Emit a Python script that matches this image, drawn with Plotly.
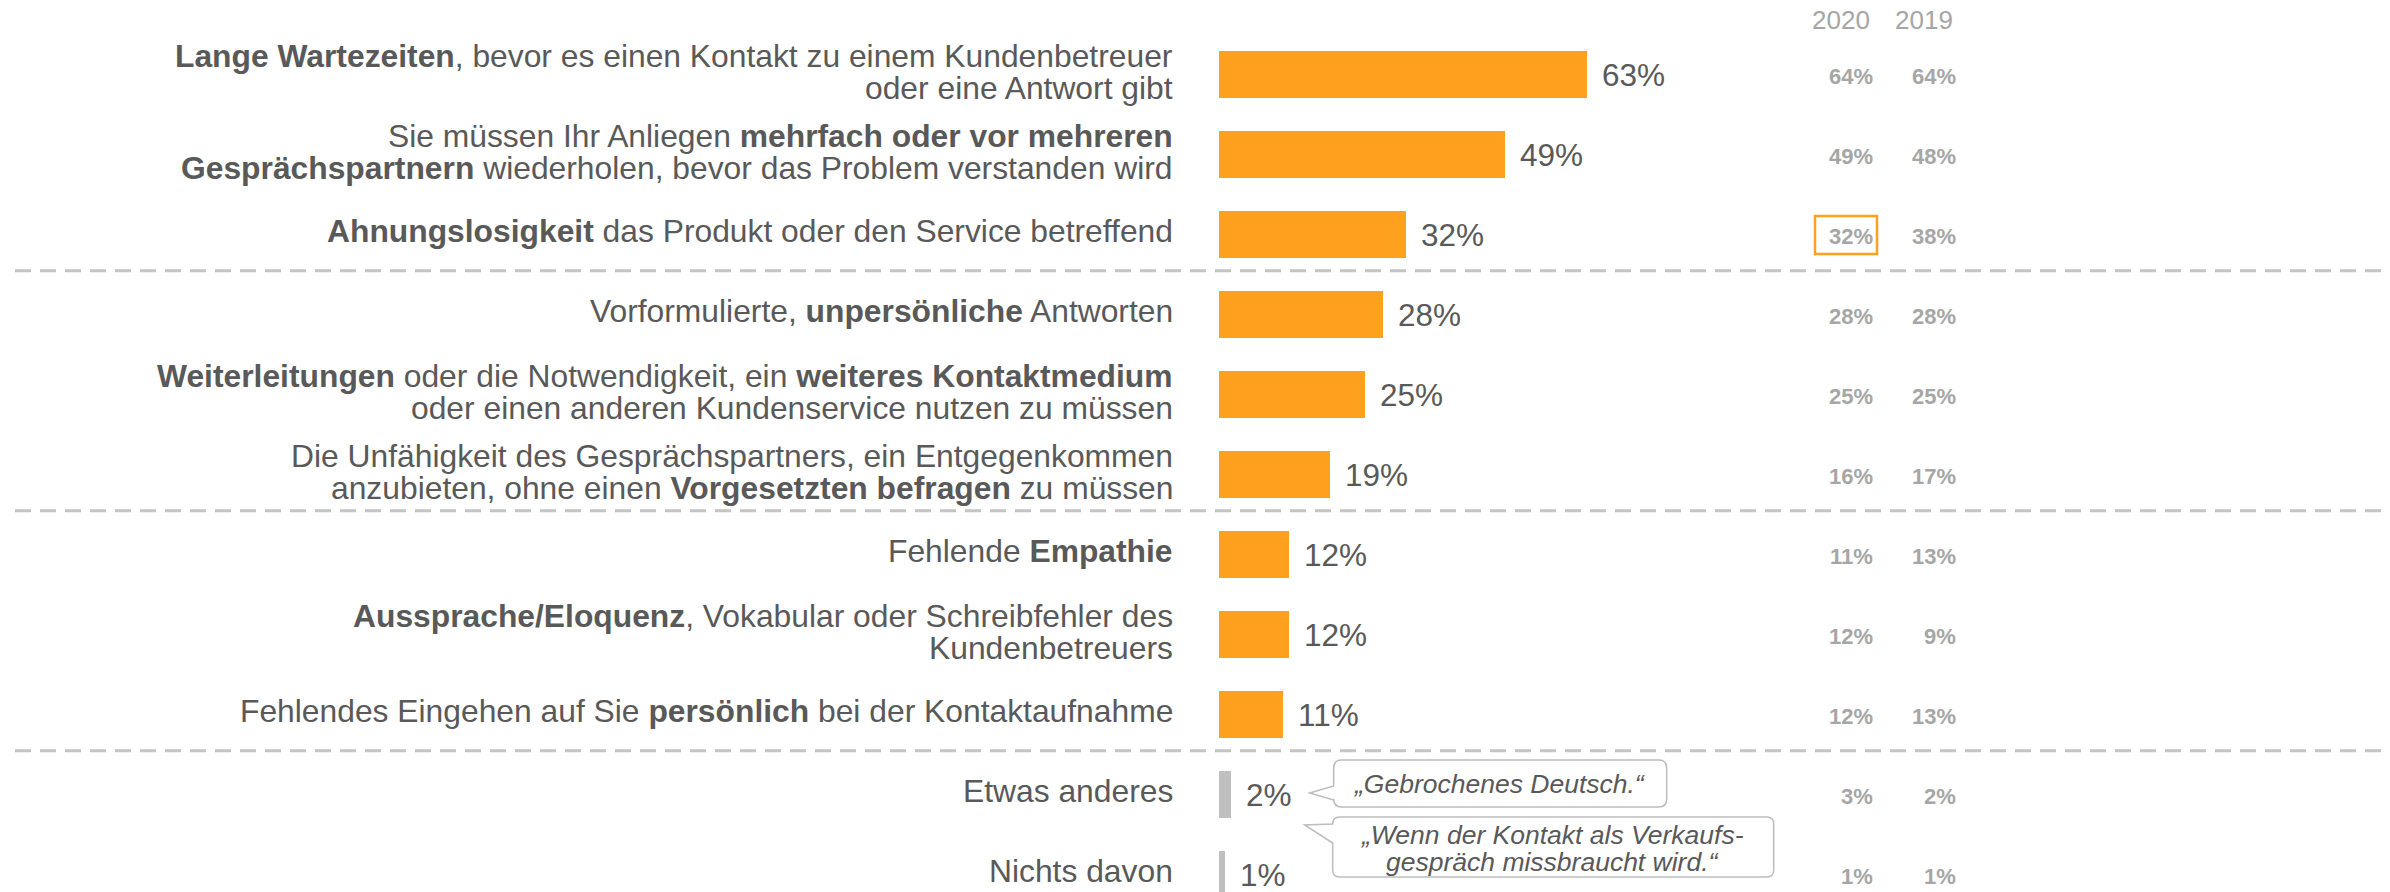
import plotly.graph_objects as go

# ---------------- data ----------------
categories = [
    "<b>Lange Wartezeiten</b>, bevor es einen Kontakt zu einem Kundenbetreuer<br>oder eine Antwort gibt",
    "Sie müssen Ihr Anliegen <b>mehrfach oder vor mehreren</b><br><b>Gesprächspartnern</b> wiederholen, bevor das Problem verstanden wird",
    "<b>Ahnungslosigkeit</b> das Produkt oder den Service betreffend",
    "Vorformulierte, <b>unpersönliche</b> Antworten",
    "<b>Weiterleitungen</b> oder die Notwendigkeit, ein <b>weiteres Kontaktmedium</b><br>oder einen anderen Kundenservice nutzen zu müssen",
    "Die Unfähigkeit des Gesprächspartners, ein Entgegenkommen<br>anzubieten, ohne einen <b>Vorgesetzten befragen</b> zu müssen",
    "Fehlende <b>Empathie</b>",
    "<b>Aussprache/Eloquenz</b>, Vokabular oder Schreibfehler des<br>Kundenbetreuers",
    "Fehlendes Eingehen auf Sie <b>persönlich</b> bei der Kontaktaufnahme",
    "Etwas anderes",
    "Nichts davon",
]
values_current = [63, 49, 32, 28, 25, 19, 12, 12, 11, 2, 1]
values_2020 = [64, 49, 32, 28, 25, 16, 11, 12, 12, 3, 1]
values_2019 = [64, 48, 38, 28, 25, 17, 13, 9, 13, 2, 1]
year_labels = ["2020", "2019"]
group_breaks = [3, 6, 9]          # separator drawn before these rows
grey_rows = [9, 10]               # "other" answers in grey
highlight_row = 2                 # 2020 value framed in orange
quote_row = 9
quotes = ["„Gebrochenes Deutsch.“",
          "„Wenn der Kontakt als Verkaufs-<br>gespräch missbraucht wird.“"]

# ---------------- style ----------------
W, H = 2390, 892
FONT = "Liberation Sans, Arial, sans-serif"
ORANGE = "#ffa01f"
GREY_BAR = "#bfbfbf"
TXT = "#595959"
LIGHT = "#a6a6a6"
DASH = "#c4c4c4"

PX_PER_PCT = 5.84
ZERO_PX = 1219
ROW0_PX = 74
ROW_PX = 80
COL_RIGHT_PX = [1875, 1958]

n = len(categories)
pos = list(range(n))
bar_colors = [GREY_BAR if i in grey_rows else ORANGE for i in pos]

fig = go.Figure()
fig.add_trace(go.Bar(
    x=values_current, y=pos, orientation="h", width=0.5875,
    marker=dict(color=bar_colors, line=dict(width=0)),
    hoverinfo="skip", showlegend=False,
))

annotations = []
# category labels (each line placed separately for tight line spacing)
for i, cat in enumerate(categories):
    lines = cat.split("<br>")
    if len(lines) == 1:
        shifts = [3]
    else:
        shifts = [18.5, -13.5]
    for ln, ys in zip(lines, shifts):
        annotations.append(dict(
            x=0, y=i, xref="x", yref="y", text=ln, showarrow=False,
            xanchor="right", yanchor="middle", xshift=-44, yshift=ys,
            font=dict(family=FONT, size=31.8, color=TXT),
        ))
# value labels
for i, v in enumerate(values_current):
    annotations.append(dict(
        x=v, y=i, xref="x", yref="y", text=f"{v}%", showarrow=False,
        xanchor="left", yanchor="middle", xshift=13, yshift=-1,
        font=dict(family=FONT, size=31.5, color=TXT),
    ))
# previous years
for col, vals in enumerate([values_2020, values_2019]):
    xp = COL_RIGHT_PX[col] / W
    annotations.append(dict(
        x=xp, y=1 - 20 / H, xref="paper", yref="paper", text=year_labels[col],
        showarrow=False, xanchor="right", yanchor="middle", xshift=-3,
        font=dict(family=FONT, size=26, color=LIGHT),
    ))
    for i, v in enumerate(vals):
        annotations.append(dict(
            x=xp, y=i, xref="paper", yref="y", text=f"<b>{v}%</b>",
            showarrow=False, xanchor="right", yanchor="middle", yshift=-2,
            font=dict(family=FONT, size=22, color=LIGHT),
        ))

shapes = []
# dashed separators
for b in group_breaks:
    yv = b - 0.5 - 0.04
    shapes.append(dict(
        type="line", xref="paper", yref="y", x0=15 / W, x1=1, y0=yv, y1=yv,
        line=dict(color=DASH, width=3, dash="16px,9px"), layer="below",
    ))
# highlight frame
shapes.append(dict(
    type="rect", xref="paper", yref="y",
    xsizemode="pixel", ysizemode="pixel",
    xanchor=COL_RIGHT_PX[0] / W, yanchor=highlight_row,
    x0=-60, x1=2, y0=18, y1=-20,
    line=dict(color=ORANGE, width=2.5), fillcolor="rgba(0,0,0,0)",
))


def bubble(x0, x1, top, bottom, tip, j1, j2, r=8):
    # offsets in px, "down" positive -> converted to plotly (up positive)
    def p(x, y):
        return f"{x},{-y}"
    return (f"M{p(x0 + r, top)} L{p(x1 - r, top)} Q{p(x1, top)} {p(x1, top + r)} "
            f"L{p(x1, bottom - r)} Q{p(x1, bottom)} {p(x1 - r, bottom)} "
            f"L{p(x0 + r, bottom)} Q{p(x0, bottom)} {p(x0, bottom - r)} "
            f"L{p(x0, j2)} L{p(tip[0], tip[1])} L{p(x0, j1)} "
            f"L{p(x0, top + r)} Q{p(x0, top)} {p(x0 + r, top)} Z")


qv = values_current[quote_row]
bubbles = [
    dict(path=bubble(103, 436, -34, 13, (79, -1), -8, 6), cx=269, lines=[-10]),
    dict(path=bubble(102, 543, 23, 83, (74, 31), 30, 49, r=7), cx=322, lines=[41, 68]),
]
for bdef, q in zip(bubbles, quotes):
    shapes.append(dict(
        type="path", xref="x", yref="y", xsizemode="pixel", ysizemode="pixel",
        xanchor=qv, yanchor=quote_row, path=bdef["path"],
        line=dict(color="#bdbdbd", width=1.5), fillcolor="white",
    ))
    for ln, dy in zip(q.split("<br>"), bdef["lines"]):
        annotations.append(dict(
            x=qv, y=quote_row, xref="x", yref="y", text=f"<i>{ln}</i>",
            showarrow=False, xanchor="center", yanchor="middle",
            xshift=bdef["cx"], yshift=-dy,
            font=dict(family=FONT, size=26.5, color=TXT),
        ))

fig.update_layout(
    width=W, height=H,
    margin=dict(l=0, r=0, t=0, b=0),
    paper_bgcolor="white", plot_bgcolor="white",
    xaxis=dict(range=[-ZERO_PX / PX_PER_PCT, (W - ZERO_PX) / PX_PER_PCT],
               visible=False, fixedrange=True),
    yaxis=dict(range=[(H - ROW0_PX) / ROW_PX, -ROW0_PX / ROW_PX],
               visible=False, fixedrange=True),
    annotations=annotations, shapes=shapes,
    showlegend=False, bargap=0,
)

fig.write_html("out.html", config={"displayModeBar": False},
               post_script="document.body.style.margin='0';document.body.style.overflow='hidden';")
